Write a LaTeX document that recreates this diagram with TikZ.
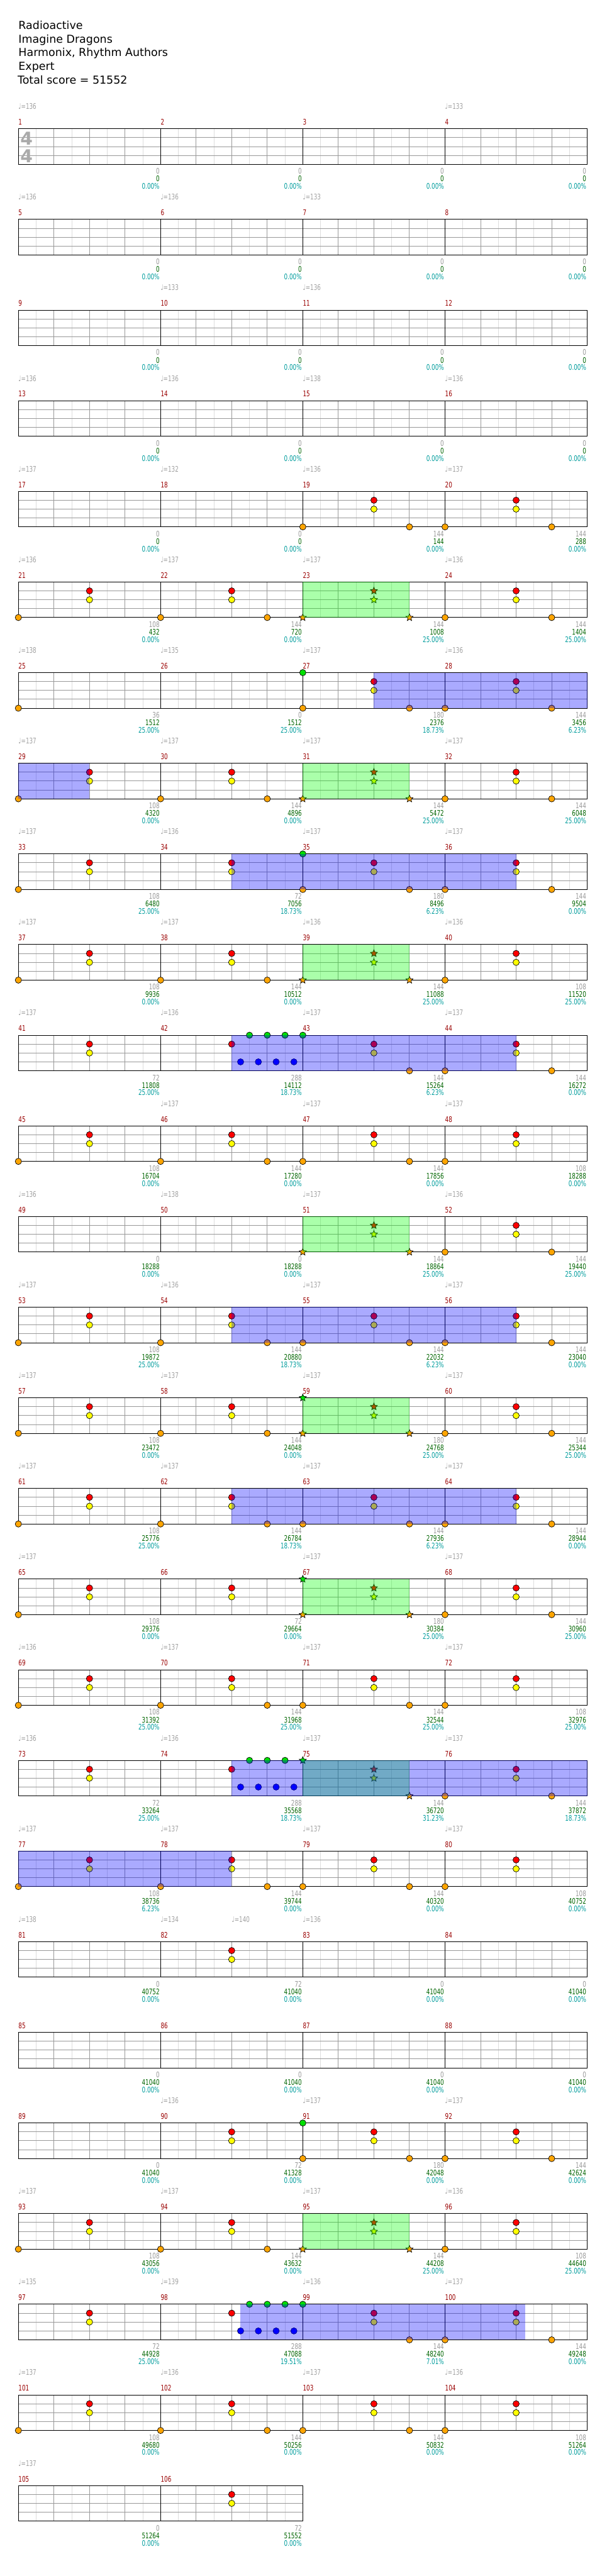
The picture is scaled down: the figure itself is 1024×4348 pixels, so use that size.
\documentclass[tikz,border=0pt]{standalone}
\usepackage{fontspec}
\setmainfont{DejaVu Sans}
\newfontfamily\tabfont[FakeStretch=0.72]{DejaVu Sans}
\usetikzlibrary{shapes.geometric}

\definecolor{barno}{HTML}{990000}
\definecolor{tempogrey}{HTML}{A0A0A0}
\definecolor{cntgrey}{HTML}{999999}
\definecolor{scoregreen}{HTML}{006400}
\definecolor{pctteal}{HTML}{009C9C}
\definecolor{beatgrey}{HTML}{999999}
\definecolor{eighthgrey}{HTML}{DDDDDD}
\definecolor{sigrey}{HTML}{AAAAAA}
\definecolor{padred}{HTML}{FF0000}
\definecolor{padyellow}{HTML}{FFFF00}
\definecolor{padblue}{HTML}{0000FF}
\definecolor{padgreen}{HTML}{00E000}
\definecolor{kickorange}{HTML}{FFA500}

\newcounter{hitno}
\def\gemshape{plain}
% top left corner of the staff of measure #1 -> \mx, \my
\newcommand\measxy[1]{%
  \pgfmathtruncatemacro\mrow{(#1-1)/4}%
  \pgfmathtruncatemacro\mcol{#1-1-4*\mrow}%
  \pgfmathsetmacro\mx{31+240*\mcol}%
  \pgfmathsetmacro\my{217.3+153*\mrow}%
}
% one gem: eighth position, lane (0 top ... 4 kick), style
\newcommand\gem[3]{%
  \stepcounter{hitno}%
  \node[#3,\gemshape] (hit\thehitno) at (\mx+30*#1,\my+15*#2) {};%
}
% grooves of one measure
\newcommand\grooveE{}
\newcommand\grooveK{\gem{0}{4}{kick}}
\newcommand\grooveC{\gem{4}{1}{snare}\gem{4}{2}{hihat}}
\newcommand\grooveA{\gem{0}{4}{kick}\grooveC}
\newcommand\grooveB{\grooveA\gem{6}{4}{kick}}
\newcommand\grooveG{\gem{0}{0}{cymbal}\grooveB}
\newcommand\grooveH{\gem{0}{0}{cymbal}\grooveC\gem{6}{4}{kick}}
\newcommand\grooveF{\gem{4}{1}{snare}%
  \foreach \t in {4.5,5.5,6.5,7.5}{\gem{\t}{3}{tom}}%
  \foreach \t in {5,6,7}{\gem{\t}{0}{cymbal}}}
\newcommand\grooveS{\def\gemshape{sp}\grooveB}
\newcommand\grooveT{\def\gemshape{sp}\grooveG}
\newcommand\grooveU{\def\gemshape{sp}\grooveH}

\begin{document}
\begin{tikzpicture}[
    x=0.75pt, y=-0.75pt,
    font=\tabfont\fontsize{9.75pt}{11pt}\selectfont,
    title/.style={anchor=base west, inner sep=0pt, font=\fontsize{13.9pt}{16pt}\selectfont},
    barnum/.style={anchor=base west, inner sep=0pt, text=barno},
    tempo/.style={anchor=base west, inner sep=0pt, text=tempogrey},
    tally/.style={anchor=base east, inner sep=0pt},
    eighth/.style={draw=eighthgrey, line width=0.75pt},
    beat/.style={draw=beatgrey, line width=0.75pt},
    barline/.style={draw=black, line width=0.75pt},
    gem/.style={circle, draw=black, line width=0.55pt, inner sep=0pt, minimum size=8pt},
    plain/.style={},
    sp/.style={star, star points=5, star point ratio=2.2, minimum size=9.5pt},
    kick/.style={gem, fill=kickorange},
    snare/.style={gem, fill=padred},
    hihat/.style={gem, fill=padyellow},
    tom/.style={gem, fill=padblue, draw=black!70!blue},
    cymbal/.style={gem, fill=padgreen},
    sprun/.style={fill=green, fill opacity=0.333},
    odrive/.style={fill=blue, fill opacity=0.333}
  ]
  \useasboundingbox (0,0) rectangle (1024,4348);

  % Header
  \node[title] (song) at (31,49.3) {Radioactive};
  \node[title] (artist) at (31,72.3) {Imagine Dragons};
  \node[title] (charter) at (31,95.3) {Harmonix, Rhythm Authors};
  \node[title] (level) at (31,118.3) {Expert};
  \node[title] (total) at (29.5,141.5) {Total score = 51552};

  % Staves
  \foreach \r in {0,...,26} {
    \pgfmathsetmacro\ry{217.3+153*\r}
    \pgfmathtruncatemacro\nm{\r==26 ? 2 : 4}
    \pgfmathtruncatemacro\lastk{8*\nm-1}
    \pgfmathsetmacro\rx{31+240*\nm}
    \foreach \k in {1,3,...,\lastk}
      \draw[eighth] (31+30*\k,\ry) -- (31+30*\k,\ry+60);
    \foreach \k in {2,4,...,\lastk}
      \draw[beat] (31+30*\k,\ry) -- (31+30*\k,\ry+60);
    \foreach \l in {15,30,45}
      \draw[beat] (31,\ry+\l) -- (\rx,\ry+\l);
    \foreach \k in {8,16,...,\lastk}
      \draw[barline] (31+30*\k,\ry) -- (31+30*\k,\ry+60);
    \draw[barline] (31,\ry) rectangle (\rx,\ry+60);
  }

  % Time signature
  \node[anchor=base west, inner sep=0pt, text=sigrey, font=\bfseries\fontsize{22.5pt}{24pt}\selectfont] (sigtop) at (34,244.9) {4};
  \node[anchor=base west, inner sep=0pt, text=sigrey, font=\bfseries\fontsize{22.5pt}{24pt}\selectfont] (sigbot) at (34,274.9) {4};

  % Measures: number / groove / count / score / percent
  \foreach \m/\pat/\cnt/\scr/\pct in {
      1/E/0/0/0.00, 2/E/0/0/0.00, 3/E/0/0/0.00, 4/E/0/0/0.00,
      5/E/0/0/0.00, 6/E/0/0/0.00, 7/E/0/0/0.00, 8/E/0/0/0.00,
      9/E/0/0/0.00, 10/E/0/0/0.00, 11/E/0/0/0.00, 12/E/0/0/0.00,
      13/E/0/0/0.00, 14/E/0/0/0.00, 15/E/0/0/0.00, 16/E/0/0/0.00,
      17/E/0/0/0.00, 18/E/0/0/0.00, 19/B/144/144/0.00, 20/B/144/288/0.00,
      21/A/108/432/0.00, 22/B/144/720/0.00, 23/S/144/1008/25.00, 24/B/144/1404/25.00,
      25/K/36/1512/25.00, 26/E/0/1512/25.00, 27/G/180/2376/18.73, 28/B/144/3456/6.23,
      29/A/108/4320/0.00, 30/B/144/4896/0.00, 31/S/144/5472/25.00, 32/B/144/6048/25.00,
      33/A/108/6480/25.00, 34/C/72/7056/18.73, 35/G/180/8496/6.23, 36/B/144/9504/0.00,
      37/A/108/9936/0.00, 38/B/144/10512/0.00, 39/S/144/11088/25.00, 40/A/108/11520/25.00,
      41/C/72/11808/25.00, 42/F/288/14112/18.73, 43/H/144/15264/6.23, 44/B/144/16272/0.00,
      45/A/108/16704/0.00, 46/B/144/17280/0.00, 47/B/144/17856/0.00, 48/A/108/18288/0.00,
      49/E/0/18288/0.00, 50/E/0/18288/0.00, 51/S/144/18864/25.00, 52/B/144/19440/25.00,
      53/A/108/19872/25.00, 54/B/144/20880/18.73, 55/B/144/22032/6.23, 56/B/144/23040/0.00,
      57/A/108/23472/0.00, 58/B/144/24048/0.00, 59/T/180/24768/25.00, 60/B/144/25344/25.00,
      61/A/108/25776/25.00, 62/B/144/26784/18.73, 63/B/144/27936/6.23, 64/B/144/28944/0.00,
      65/A/108/29376/0.00, 66/C/72/29664/0.00, 67/T/180/30384/25.00, 68/B/144/30960/25.00,
      69/A/108/31392/25.00, 70/B/144/31968/25.00, 71/B/144/32544/25.00, 72/A/108/32976/25.00,
      73/C/72/33264/25.00, 74/F/288/35568/18.73, 75/U/144/36720/31.23, 76/B/144/37872/18.73,
      77/A/108/38736/6.23, 78/B/144/39744/0.00, 79/B/144/40320/0.00, 80/A/108/40752/0.00,
      81/E/0/40752/0.00, 82/C/72/41040/0.00, 83/E/0/41040/0.00, 84/E/0/41040/0.00,
      85/E/0/41040/0.00, 86/E/0/41040/0.00, 87/E/0/41040/0.00, 88/E/0/41040/0.00,
      89/E/0/41040/0.00, 90/C/72/41328/0.00, 91/G/180/42048/0.00, 92/B/144/42624/0.00,
      93/A/108/43056/0.00, 94/B/144/43632/0.00, 95/S/144/44208/25.00, 96/A/108/44640/25.00,
      97/C/72/44928/25.00, 98/F/288/47088/19.51, 99/H/144/48240/7.01, 100/B/144/49248/0.00,
      101/A/108/49680/0.00, 102/B/144/50256/0.00, 103/B/144/50832/0.00, 104/A/108/51264/0.00,
      105/E/0/51264/0.00, 106/C/72/51552/0.00} {
    \measxy{\m}
    \csname groove\pat\endcsname
    \node[barnum] (bar\m) at (\mx,\my-6.5) {\m};
    \node[tally, text=cntgrey] (cnt\m) at (\mx+238.5,\my+76.4) {\cnt};
    \node[tally, text=scoregreen] (scr\m) at (\mx+238.5,\my+89.2) {\scr};
    \node[tally, text=pctteal] (pct\m) at (\mx+238.5,\my+101.8) {\pct\%};
  }

  % Star power phrases
  \foreach \m in {23,31,39,51,59,67,75,95} {
    \measxy{\m}
    \fill[sprun] (\mx,\my) rectangle (\mx+180,\my+60);
  }

  % Overdrive, one segment per row
  \foreach \ma/\pa/\mb/\pb in {27/4/28/8, 29/0/29/4, 34/4/36/4, 42/4/44/4, 54/4/56/4,
      62/4/64/4, 74/4/76/8, 77/0/78/4, 98/4.5/100/4.5} {
    \measxy{\ma}
    \pgfmathsetmacro\xa{\mx+30*\pa}
    \measxy{\mb}
    \pgfmathsetmacro\xb{\mx+30*\pb}
    \fill[odrive] (\xa,\my) rectangle (\xb,\my+60);
  }

  % Tempo marks
  \foreach \m/\p/\bpm in {1/0/136, 4/0/133, 5/0/136, 6/0/136, 7/0/133, 10/0/133, 11/0/136,
      13/0/136, 14/0/136, 15/0/138, 16/0/136,
      17/0/137, 18/0/132, 19/0/136, 20/0/137, 21/0/136, 22/0/137, 23/0/137, 24/0/136,
      25/0/138, 26/0/135, 27/0/137, 28/0/136, 29/0/137, 30/0/137, 31/0/137, 32/0/137,
      33/0/137, 34/0/136, 35/0/137, 36/0/137, 37/0/137, 38/0/137, 39/0/136, 40/0/136,
      41/0/137, 42/0/136, 43/0/137, 44/0/137, 46/0/137, 47/0/137, 48/0/137,
      49/0/136, 50/0/138, 51/0/137, 52/0/136, 53/0/137, 54/0/136, 55/0/137, 56/0/137,
      57/0/137, 58/0/137, 59/0/137, 60/0/137, 61/0/137, 62/0/137, 63/0/137, 64/0/137,
      65/0/137, 67/0/137, 68/0/137, 69/0/136, 70/0/137, 71/0/137, 72/0/137,
      73/0/136, 74/0/136, 75/0/137, 76/0/137, 77/0/137, 78/0/137, 79/0/137, 80/0/137,
      81/0/138, 82/0/134, 82/4/140, 83/0/136, 90/0/136, 91/0/137, 92/0/137,
      93/0/137, 94/0/137, 95/0/137, 96/0/136, 97/0/135, 98/0/139, 99/0/136, 100/0/137,
      101/0/137, 102/0/136, 103/0/137, 104/0/136, 105/0/137} {
    \measxy{\m}
    \node[tempo] (bpm\m-\p) at (\mx+30*\p,\my-33) {♩=\bpm};
  }
\end{tikzpicture}
\end{document}
